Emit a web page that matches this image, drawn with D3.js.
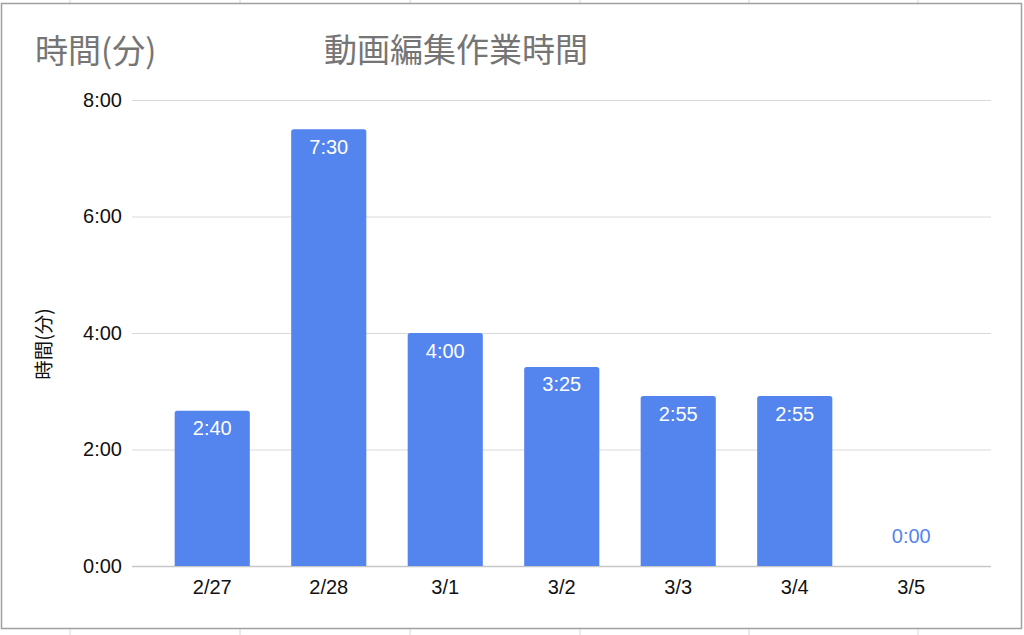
<!DOCTYPE html>
<html><head><meta charset="utf-8">
<script src="https://cdn.jsdelivr.net/npm/d3@7"></script>
<style>body{margin:0;background:#fff}</style>
</head><body>
<svg id="c" width="1024" height="635"></svg>
<script>
const categories = ["2/27","2/28","3/1","3/2","3/3","3/4","3/5"];
const minutes = [160,450,240,205,175,175,0];
const valueLabels = ["2:40","7:30","4:00","3:25","2:55","2:55","0:00"];
const yTicks = [0,120,240,360,480];
const yTickLabels = ["0:00","2:00","4:00","6:00","8:00"];
const chartTitle = "動画編集作業時間";
const yTitle = "時間(分)";
const sheetCols = [70,240,410,580,749,918];

const svg = d3.select("#c");
const numFont = "'Liberation Sans', Arial, Helvetica, sans-serif";
const cjkFont = "'Noto Sans CJK JP', 'Noto Sans', sans-serif";
const barColor = "#5484ed";

// spreadsheet cell lines outside the chart frame
svg.append("g").selectAll("line").data(sheetCols).join("line")
  .attr("x1", d => d).attr("x2", d => d).attr("y1", 0).attr("y2", 635)
  .attr("stroke", "#d6d6d6").attr("stroke-width", 1);

svg.append("rect").attr("x", 1.5).attr("y", 3.5).attr("width", 1020).attr("height", 625)
  .attr("fill", "#fff").attr("stroke", "#a0a0a0").attr("stroke-width", 1.5);

const x = d3.scaleBand().domain(categories).range([154, 969.5]).paddingInner(0.355).paddingOuter(0.1775);
const y = d3.scaleLinear().domain([0, 480]).range([566, 100]);
const gridLeft = 132, gridRight = 991;

const yAxis = svg.append("g").attr("transform", `translate(${gridLeft},0)`)
  .call(d3.axisLeft(y).tickValues(yTicks).tickFormat((d, i) => yTickLabels[i])
    .tickSize(-(gridRight - gridLeft)).tickPadding(10));
yAxis.select(".domain").remove();
yAxis.selectAll(".tick line").attr("stroke", d => d === 0 ? "#c6c6c6" : "#d9d9d9")
  .attr("stroke-width", d => d === 0 ? 1.5 : 1.2);
yAxis.selectAll(".tick text").attr("font-family", numFont).attr("font-size", 20).attr("fill", "#111");

const xAxis = svg.append("g").attr("transform", `translate(0,${y(0)})`)
  .call(d3.axisBottom(x).tickSize(0).tickPadding(14));
xAxis.select(".domain").remove();
xAxis.selectAll(".tick text").attr("font-family", numFont).attr("font-size", 20).attr("fill", "#111");

function barPath(x0, w, top, bottom, r) {
  const h = bottom - top;
  if (h <= 0) return "";
  r = Math.min(r, h, w / 2);
  return `M${x0},${bottom}V${top + r}Q${x0},${top} ${x0 + r},${top}H${x0 + w - r}Q${x0 + w},${top} ${x0 + w},${top + r}V${bottom}Z`;
}

const data = categories.map((c, i) => ({ c, v: minutes[i], lab: valueLabels[i] }));
svg.append("g").selectAll("path").data(data).join("path")
  .attr("d", d => barPath(x(d.c), x.bandwidth(), y(d.v), y(0), 2.5))
  .attr("fill", barColor);

svg.append("g").selectAll("text").data(data).join("text")
  .attr("x", d => x(d.c) + x.bandwidth() / 2)
  .attr("y", d => d.v > 0 ? y(d.v) + 24.5 : y(0) - 23)
  .attr("text-anchor", "middle")
  .attr("font-family", numFont).attr("font-size", 20)
  .attr("fill", d => d.v > 0 ? "#ffffff" : barColor)
  .text(d => d.lab);

svg.append("text").attr("x", 35).attr("y", 63)
  .attr("font-family", cjkFont).attr("font-size", 33).attr("fill", "#757575").text(yTitle);
svg.append("text").attr("x", 324).attr("y", 62)
  .attr("font-family", cjkFont).attr("font-size", 33).attr("fill", "#757575").text(chartTitle);

svg.append("text").attr("transform", "translate(42,344) rotate(-90)")
  .attr("text-anchor", "middle").attr("dominant-baseline", "central")
  .attr("font-family", cjkFont).attr("font-size", 19.5).attr("fill", "#111").text(yTitle);
</script>
</body></html>
